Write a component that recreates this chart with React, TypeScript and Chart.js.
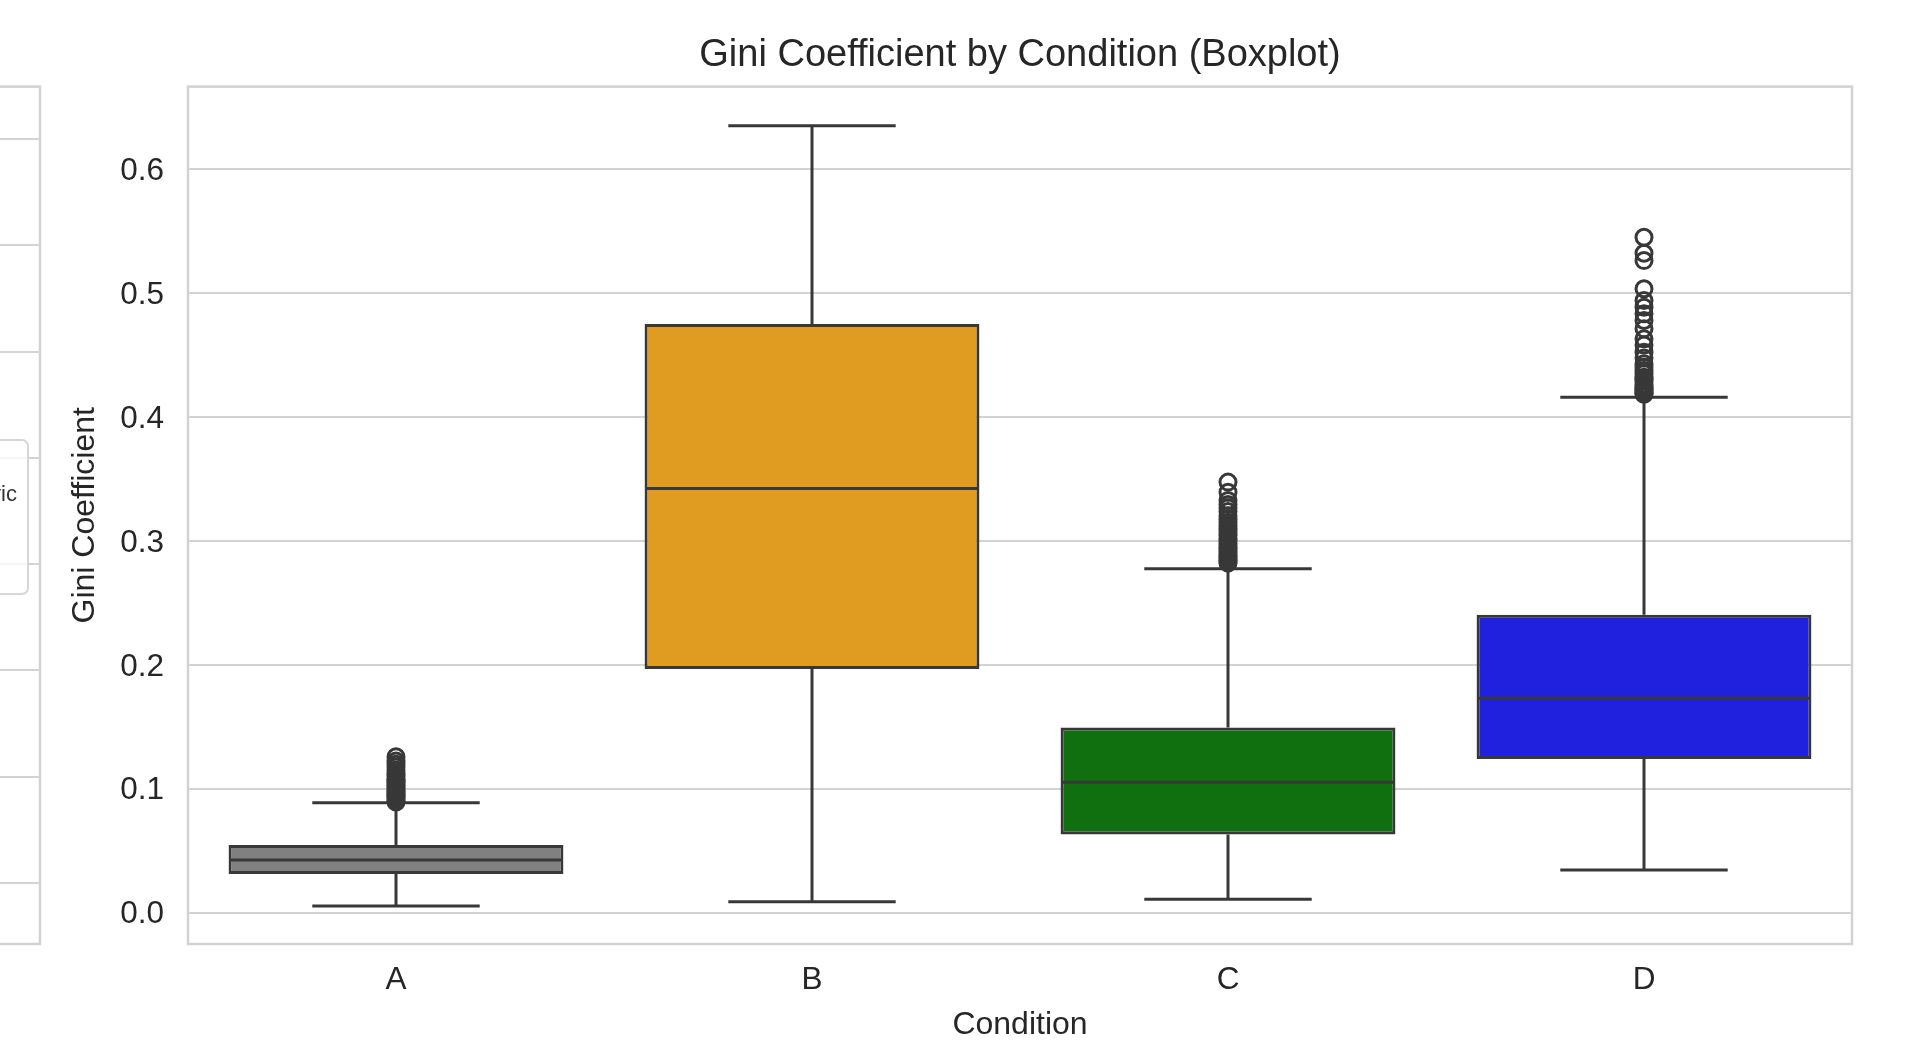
import React, { useEffect, useRef } from "react";
import { Chart, registerables } from "chart.js";

Chart.register(...registerables);

const FONT = "'Liberation Sans', Arial, Helvetica, sans-serif";
const TEXT = "#262626";
const LINE = "#383838";
const GRID = "#d3d3d3";

const chartTitle = "Gini Coefficient by Condition (Boxplot)";
const xTitle = "Condition";
const yTitle = "Gini Coefficient";

// Five-number summaries per condition
const conditions = ["A", "B", "C", "D"];
const whiskerLow = [0.0054, 0.0089, 0.0108, 0.0344];
const q1 = [0.0312, 0.1967, 0.063, 0.124];
const median = [0.0425, 0.3423, 0.1052, 0.173];
const q3 = [0.0546, 0.4751, 0.1495, 0.2405];
const whiskerHigh = [0.0888, 0.6352, 0.2776, 0.416];
const boxColors = ["#808080", "#df9c20", "#107010", "#2020df"];

// Flier points beyond the whiskers
const outliersA = [
  0.0893, 0.0904, 0.0917, 0.0931, 0.0940, 0.0956, 0.0969, 0.0983, 0.0994, 0.1011,
  0.1025, 0.1036, 0.1052, 0.1067, 0.1079, 0.1098, 0.1113, 0.1130, 0.1151, 0.1176,
  0.1197, 0.1223, 0.1258,
];
const outliersB: number[] = [];
const outliersC = [
  0.2821, 0.2837, 0.2850, 0.2869, 0.2881, 0.2898, 0.2914, 0.2932, 0.2945, 0.2963,
  0.2984, 0.3004, 0.3018, 0.3043, 0.3060, 0.3084, 0.3103, 0.3128, 0.3151, 0.3179,
  0.3204, 0.3237, 0.3267, 0.3295, 0.3327, 0.3394, 0.3475,
];
const outliersD = [
  0.4183, 0.4194, 0.4201, 0.4216, 0.4227, 0.4238, 0.4252, 0.4269, 0.4290, 0.4305,
  0.4322, 0.4351, 0.4376, 0.4402, 0.4430, 0.4476, 0.4523, 0.4581, 0.4631, 0.4712,
  0.4779, 0.4833, 0.4886, 0.4940, 0.5035, 0.5263, 0.5322, 0.5451,
];

const yTicks = [0, 0.1, 0.2, 0.3, 0.4, 0.5, 0.6];
const yMin = -0.0253;
const yMax = 0.6667;

// Neighbouring panel on the left edge
const legendLabel = "Metric";
const sideTicks = [0, 1, 2, 3, 4, 5, 6, 7];
const sideMin = -0.577;
const sideMax = 7.496;

const framePlugin = {
  id: "frame",
  beforeDatasetsDraw(chart: any) {
    const { ctx, chartArea: a } = chart;
    ctx.save();
    ctx.strokeStyle = "#d2d2d2";
    ctx.lineWidth = 2.5;
    ctx.strokeRect(a.left, a.top, a.right - a.left, a.bottom - a.top);
    ctx.restore();
  },
};

const boxParts = {
  id: "boxParts",
  beforeDatasetsDraw(chart: any) {
    const { ctx } = chart;
    const x = chart.scales.x;
    const y = chart.scales.y;
    const meta = chart.getDatasetMeta(0);
    ctx.save();
    ctx.strokeStyle = LINE;
    ctx.lineWidth = 3;
    conditions.forEach((_, i) => {
      const bar = meta.data[i];
      if (!bar) return;
      const cx = x.getPixelForValue(i);
      const half = bar.width / 4;
      const yLo = y.getPixelForValue(whiskerLow[i]);
      const yQ1 = y.getPixelForValue(q1[i]);
      const yQ3 = y.getPixelForValue(q3[i]);
      const yHi = y.getPixelForValue(whiskerHigh[i]);
      ctx.beginPath();
      ctx.moveTo(cx, yQ1);
      ctx.lineTo(cx, yLo);
      ctx.moveTo(cx, yQ3);
      ctx.lineTo(cx, yHi);
      ctx.moveTo(cx - half, yLo);
      ctx.lineTo(cx + half, yLo);
      ctx.moveTo(cx - half, yHi);
      ctx.lineTo(cx + half, yHi);
      ctx.stroke();
    });
    ctx.restore();
  },
  afterDatasetDraw(chart: any, args: any) {
    if (args.index !== 0) return;
    const { ctx } = chart;
    const x = chart.scales.x;
    const y = chart.scales.y;
    const meta = chart.getDatasetMeta(0);
    ctx.save();
    ctx.strokeStyle = LINE;
    ctx.lineWidth = 3;
    conditions.forEach((_, i) => {
      const bar = meta.data[i];
      if (!bar) return;
      const cx = x.getPixelForValue(i);
      const half = bar.width / 2 - 1.5;
      const ym = y.getPixelForValue(median[i]);
      ctx.beginPath();
      ctx.moveTo(cx - half, ym);
      ctx.lineTo(cx + half, ym);
      ctx.stroke();
    });
    ctx.restore();
  },
  afterDraw(chart: any) {
    const { ctx, chartArea: a } = chart;
    ctx.save();
    ctx.fillStyle = TEXT;
    ctx.font = `38px ${FONT}`;
    ctx.textAlign = "center";
    ctx.textBaseline = "middle";
    ctx.fillText(chartTitle, (a.left + a.right) / 2, 56);
    ctx.restore();
  },
};

const sideLegend = {
  id: "sideLegend",
  afterDraw(chart: any) {
    const { ctx, chartArea: a } = chart;
    const right = a.right - 12;
    const top = 440;
    const h = 154;
    ctx.save();
    ctx.beginPath();
    ctx.roundRect(right - 220, top, 220, h, 6);
    ctx.fillStyle = "rgba(255,255,255,0.8)";
    ctx.fill();
    ctx.strokeStyle = "#d6d6d6";
    ctx.lineWidth = 2;
    ctx.stroke();
    ctx.fillStyle = "#333333";
    ctx.font = `22px ${FONT}`;
    ctx.textAlign = "right";
    ctx.textBaseline = "middle";
    ctx.fillText(legendLabel, right - 11, top + 55);
    ctx.restore();
  },
};

export default function App() {
  const mainRef = useRef<HTMLCanvasElement>(null);
  const sideRef = useRef<HTMLCanvasElement>(null);

  useEffect(() => {
    const outlierPoints = [
      ...outliersA.map((v) => ({ x: "A", y: v })),
      ...outliersB.map((v) => ({ x: "B", y: v })),
      ...outliersC.map((v) => ({ x: "C", y: v })),
      ...outliersD.map((v) => ({ x: "D", y: v })),
    ];

    const main = new Chart(mainRef.current!, {
      type: "bar",
      data: {
        labels: conditions,
        datasets: [
          {
            type: "bar",
            data: conditions.map((_, i) => [q1[i], q3[i]]) as any,
            backgroundColor: boxColors,
            borderColor: LINE,
            borderWidth: 3,
            borderSkipped: false,
            barPercentage: 0.805,
            categoryPercentage: 1,
          } as any,
          {
            type: "scatter",
            data: outlierPoints as any,
            showLine: false,
            pointStyle: "circle",
            pointRadius: 8,
            pointBorderWidth: 3,
            pointBorderColor: LINE,
            pointBackgroundColor: "rgba(0,0,0,0)",
          } as any,
        ],
      },
      options: {
        animation: false,
        responsive: false,
        events: [],
        layout: { padding: { left: 0, right: 61, top: 86.6, bottom: 0 } },
        plugins: {
          legend: { display: false },
          tooltip: { enabled: false },
          title: { display: false },
        },
        scales: {
          x: {
            type: "category",
            offset: true,
            grid: { display: false },
            border: { display: false },
            ticks: {
              color: TEXT,
              font: { family: FONT, size: 31.5, lineHeight: 1.2 },
              padding: 9,
            },
            title: {
              display: true,
              text: xTitle,
              color: TEXT,
              font: { family: FONT, size: 32, lineHeight: 1 },
              padding: { top: 0, bottom: 1 },
            },
            afterFit: (s: any) => {
              s.height = 98;
            },
          },
          y: {
            type: "linear",
            min: yMin,
            max: yMax,
            afterBuildTicks: (s: any) => {
              s.ticks = yTicks.map((v) => ({ value: v }));
            },
            grid: { color: GRID, lineWidth: 2, drawTicks: false },
            border: { display: false },
            ticks: {
              color: TEXT,
              font: { family: FONT, size: 31.5, lineHeight: 1.2 },
              padding: 24,
              labelOffset: 2,
              callback: (v: any) => Number(v).toFixed(1),
            },
            title: {
              display: true,
              text: yTitle,
              color: TEXT,
              font: { family: FONT, size: 32, lineHeight: 1 },
              padding: { top: 69, bottom: 0 },
            },
            afterFit: (s: any) => {
              s.width = 188;
            },
          },
        },
      } as any,
      plugins: [framePlugin, boxParts],
    });

    const side = new Chart(sideRef.current!, {
      type: "bar",
      data: { labels: [], datasets: [] },
      options: {
        animation: false,
        responsive: false,
        events: [],
        layout: { padding: { top: 86.6, bottom: 98, right: 2, left: 0 } },
        plugins: { legend: { display: false }, tooltip: { enabled: false } },
        scales: {
          x: { display: false },
          y: {
            type: "linear",
            min: sideMin,
            max: sideMax,
            afterBuildTicks: (s: any) => {
              s.ticks = sideTicks.map((v) => ({ value: v }));
            },
            ticks: { display: false },
            grid: { color: GRID, lineWidth: 2, drawTicks: false },
            border: { display: false },
          },
        },
      } as any,
      plugins: [framePlugin, sideLegend],
    });

    return () => {
      main.destroy();
      side.destroy();
    };
  }, []);

  return (
    <div
      style={{
        position: "fixed",
        left: 0,
        top: 0,
        width: 1913,
        height: 1042,
        background: "#ffffff",
        overflow: "hidden",
      }}
    >
      <div
        style={{
          position: "absolute",
          left: 0,
          top: 0,
          width: 42,
          height: 1042,
          overflow: "hidden",
        }}
      >
        <canvas
          ref={sideRef}
          width={400}
          height={1042}
          style={{ position: "absolute", left: -358, top: 0 }}
        />
      </div>
      <canvas
        ref={mainRef}
        width={1913}
        height={1042}
        style={{ position: "absolute", left: 0, top: 0 }}
      />
    </div>
  );
}
